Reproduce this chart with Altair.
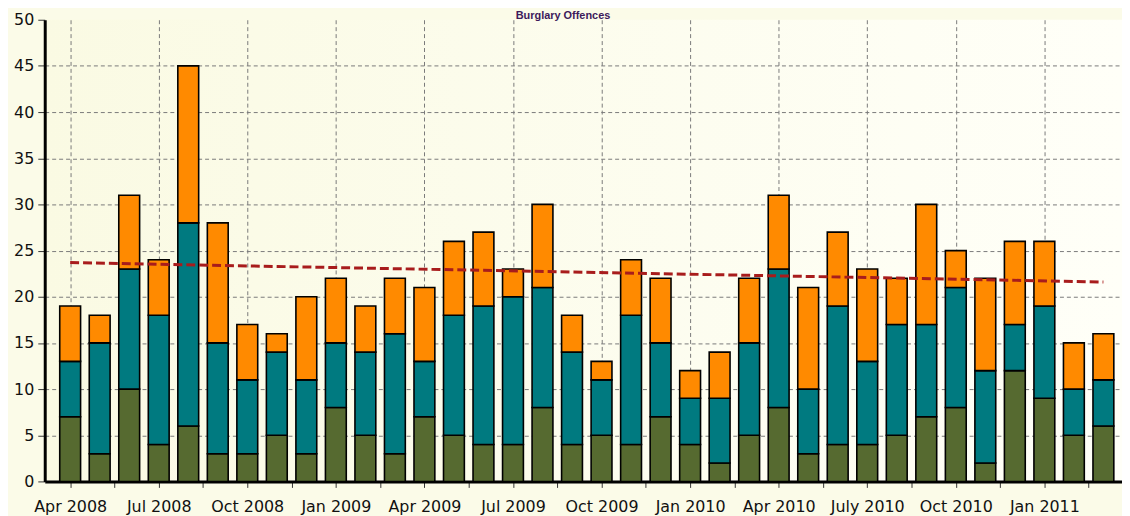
import json
import altair as alt
import pandas as pd

months = [
    "Apr 2008", "May 2008", "Jun 2008", "Jul 2008", "Aug 2008", "Sep 2008",
    "Oct 2008", "Nov 2008", "Dec 2008", "Jan 2009", "Feb 2009", "Mar 2009",
    "Apr 2009", "May 2009", "Jun 2009", "Jul 2009", "Aug 2009", "Sep 2009",
    "Oct 2009", "Nov 2009", "Dec 2009", "Jan 2010", "Feb 2010", "Mar 2010",
    "Apr 2010", "May 2010", "Jun 2010", "Jul 2010", "Aug 2010", "Sep 2010",
    "Oct 2010", "Nov 2010", "Dec 2010", "Jan 2011", "Feb 2011", "Mar 2011",
]
seg_bottom = [7, 3, 10, 4, 6, 3, 3, 5, 3, 8, 5, 3,
              7, 5, 4, 4, 8, 4, 5, 4, 7, 4, 2, 5,
              8, 3, 4, 4, 5, 7, 8, 2, 12, 9, 5, 6]
seg_middle = [6, 12, 13, 14, 22, 12, 8, 9, 8, 7, 9, 13,
              6, 13, 15, 16, 13, 10, 6, 14, 8, 5, 7, 10,
              15, 7, 15, 9, 12, 10, 13, 10, 5, 10, 5, 5]
seg_top = [6, 3, 8, 6, 17, 13, 6, 2, 9, 7, 5, 6,
           8, 8, 8, 3, 9, 4, 2, 6, 7, 3, 5, 7,
           8, 11, 8, 10, 5, 13, 4, 10, 9, 7, 5, 5]
series_names = ["Series A", "Series B", "Series C"]
series_colors = ["#566A30", "#007A80", "#FF8A00"]
quarter_labels = ["Apr 2008", "Jul 2008", "Oct 2008", "Jan 2009", "Apr 2009",
                  "Jul 2009", "Oct 2009", "Jan 2010", "Apr 2010", "July 2010",
                  "Oct 2010", "Jan 2011"]
trend_months = ["Apr 2008", "Mar 2011"]
trend_values = [23.7, 21.6]
title_text = "Burglary Offences"

rows = []
for i, m in enumerate(months):
    for k, vals in enumerate([seg_bottom, seg_middle, seg_top]):
        rows.append({"idx": i, "month": m, "series": series_names[k], "k": k, "value": vals[i]})
bars_df = pd.DataFrame(rows)
trend_df = pd.DataFrame({"idx": [months.index(m) for m in trend_months], "value": trend_values})

label_array = json.dumps(quarter_labels).replace('"', "'")

x_axis = alt.Axis(
    values=[k * 0.75 for k in range(48)],
    labelExpr=f"datum.value % 3 === 0 ? {label_array}[round(datum.value / 3)] : ''",
    grid=True,
    gridOpacity={"condition": {"test": "datum.value % 3 === 0", "value": 1}, "value": 0},
    gridDash=[4, 3], gridColor="#7a7a7a", gridWidth=1,
    tickSize=6, tickColor="#333333", tickWidth=1,
    domainColor="#000000", domainWidth=3,
    labelFont="DejaVu Sans", labelFontSize=16, labelColor="#111111",
    labelPadding=11, labelOverlap=False, labelFlush=False, title=None,
)
y_axis = alt.Axis(
    values=[k * 1.25 for k in range(41)],
    labelExpr="datum.value % 5 === 0 ? datum.value : ''",
    grid=True,
    gridOpacity={"condition": {"test": "datum.value % 5 === 0 && datum.value > 0 && datum.value < 50", "value": 1}, "value": 0},
    gridDash=[4, 3], gridColor="#7a7a7a", gridWidth=1,
    tickSize={"condition": {"test": "datum.value % 5 === 0", "value": 7}, "value": 3},
    tickColor="#333333", tickWidth=1,
    domainColor="#000000", domainWidth=3,
    labelFont="DejaVu Sans", labelFontSize=16, labelColor="#111111",
    labelPadding=4, labelOverlap=False, labelFlush=False, title=None,
)

x_scale = alt.Scale(domain=[-0.693, 35.462], nice=False, zero=False)
y_scale = alt.Scale(domain=[0, 50], nice=False)

bars = alt.Chart(bars_df).mark_bar(
    size=21, stroke="#000000", strokeWidth=1.6, orient="vertical"
).encode(
    x=alt.X("idx:Q", scale=x_scale, axis=x_axis),
    y=alt.Y("value:Q", stack="zero", scale=y_scale, axis=y_axis),
    color=alt.Color("series:N", scale=alt.Scale(domain=series_names, range=series_colors), legend=None),
    order=alt.Order("k:Q", sort="ascending"),
)

trend = alt.Chart(trend_df).mark_line(
    color="#A81C1C", strokeWidth=3, strokeDash=[9, 4]
).encode(
    x=alt.X("idx:Q", scale=x_scale),
    y=alt.Y("value:Q", scale=y_scale),
)

title = alt.Chart(pd.DataFrame({"t": [title_text]})).mark_text(
    font="Liberation Sans", fontSize=11, fontWeight="bold", color="#3D1A5B",
    align="center", baseline="alphabetic",
).encode(x=alt.value(522), y=alt.value(-1), text="t:N")

gradient_expr = ("{gradient: 'linear', x1: 0, x2: 1, y1: 0, y2: 0, "
                 "stops: [{offset: 0, color: '#FAFAE3'}, {offset: 1, color: '#FFFFF8'}]}")

chart = alt.layer(bars, trend, title).properties(
    width=1085, height=465,
    autosize=alt.AutoSizeParams(type="none"),
    padding={"left": 37, "top": 10, "right": 0, "bottom": 33},
    background="#FBFBE8",
).configure_view(
    stroke=None,
    fill={"expr": gradient_expr},
)

chart.save("out.html", embed_options={"renderer": "svg", "actions": False})
